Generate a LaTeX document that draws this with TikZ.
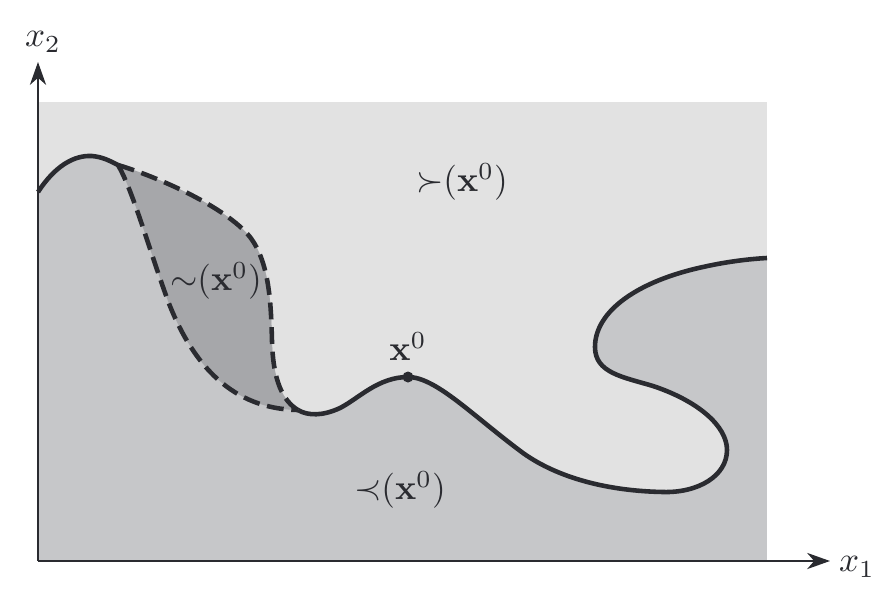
\documentclass[tikz,border=0pt]{standalone}
\usepackage{amsmath}
\usepackage{amssymb}
\usepackage{tikz}
\usetikzlibrary{positioning,arrows.meta}
\definecolor{pfline}{HTML}{2A2B30}
\definecolor{pflight}{HTML}{E2E2E2}
\definecolor{pfdark}{HTML}{C6C7C9}
\definecolor{pfmid}{HTML}{A6A7AA}

\begin{document}
\begin{tikzpicture}[
  font=\normalsize,
  bound/.style={draw=pfline, line width=1.3pt, line join=round},
  indiff/.style={bound, dash pattern=on 4.8pt off 2.2pt},
  axis/.style={draw=pfline, line width=0.6pt,
               -{Stealth[length=6.5pt, width=4.6pt, inset=2pt]}},
  lab/.style={inner sep=1pt, text=pfline},
]
  \useasboundingbox (-0.38,-0.41) rectangle (8.44,5.61);

  % ---- regions ----------------------------------------------------------------
  \coordinate (o) at (0,0);
  \coordinate (start) at (0,3.69);
  \coordinate (a) at (0.80,3.96);
  \coordinate (b) at (2.60,1.51);
  \coordinate (xzero) at (3.70,1.84);
  \coordinate (stop) at (7.29,3.03);
  \fill[pflight] (o) rectangle (7.29,4.59);
  \fill[pfdark] (o) -- (start)
    .. controls (0.17,3.95) and (0.36,4.06) .. (0.54,4.05)
    .. controls (0.65,4.04) and (0.72,4.00) .. (a)
    .. controls (1.20,3.84) and (1.88,3.54) .. (2.12,3.24)
    .. controls (2.32,2.98) and (2.33,2.55) .. (2.34,2.20)
    .. controls (2.35,1.80) and (2.45,1.60) .. (b)
    .. controls (2.70,1.45) and (2.85,1.45) .. (3.02,1.53)
    .. controls (3.20,1.62) and (3.40,1.84) .. (xzero)
    .. controls (3.98,1.84) and (4.35,1.45) .. (4.85,1.08)
    .. controls (5.20,0.83) and (5.70,0.70) .. (6.25,0.69)
    .. controls (6.60,0.68) and (6.89,0.85) .. (6.89,1.11)
    .. controls (6.89,1.35) and (6.60,1.60) .. (6.15,1.75)
    .. controls (5.85,1.84) and (5.57,1.88) .. (5.57,2.14)
    .. controls (5.57,2.50) and (6.00,2.80) .. (6.65,2.94)
    .. controls (6.87,2.99) and (7.10,3.02) .. (stop)
    -- (7.29,0) -- cycle;
  \fill[pfmid] (a)
    .. controls (1.20,3.84) and (1.88,3.54) .. (2.12,3.24)
    .. controls (2.32,2.98) and (2.33,2.55) .. (2.34,2.20)
    .. controls (2.35,1.80) and (2.45,1.60) .. (b)
    .. controls (1.95,1.52) and (1.55,1.95) .. (1.30,2.60)
    .. controls (1.10,3.15) and (0.95,3.70) .. (a) -- cycle;

  % ---- boundary curves --------------------------------------------------------
  \draw[bound] (start)
    .. controls (0.17,3.95) and (0.36,4.06) .. (0.54,4.05)
    .. controls (0.65,4.04) and (0.72,4.00) .. (a);
  \draw[bound] (b)
    .. controls (2.70,1.45) and (2.85,1.45) .. (3.02,1.53)
    .. controls (3.20,1.62) and (3.40,1.84) .. (xzero)
    .. controls (3.98,1.84) and (4.35,1.45) .. (4.85,1.08)
    .. controls (5.20,0.83) and (5.70,0.70) .. (6.25,0.69)
    .. controls (6.60,0.68) and (6.89,0.85) .. (6.89,1.11)
    .. controls (6.89,1.35) and (6.60,1.60) .. (6.15,1.75)
    .. controls (5.85,1.84) and (5.57,1.88) .. (5.57,2.14)
    .. controls (5.57,2.50) and (6.00,2.80) .. (6.65,2.94)
    .. controls (6.87,2.99) and (7.10,3.02) .. (stop);
  \draw[indiff] (a)
    .. controls (1.20,3.84) and (1.88,3.54) .. (2.12,3.24)
    .. controls (2.32,2.98) and (2.33,2.55) .. (2.34,2.20)
    .. controls (2.35,1.80) and (2.45,1.60) .. (b);
  \draw[indiff] (a)
    .. controls (0.95,3.70) and (1.10,3.15) .. (1.30,2.60)
    .. controls (1.55,1.95) and (1.95,1.52) .. (b);
  \fill[pfline] (xzero) circle (0.055);

  % ---- axes -------------------------------------------------------------------
  \coordinate (xend) at (7.92,0);
  \coordinate (yend) at (0,4.99);
  \draw[axis] (o) -- (xend);
  \draw[axis] (o) -- (yend);
  \node[lab] (xone) at (8.19,-0.06) {$x_1$};
  \node[lab] (xtwo) at (0.05,5.19) {$x_2$};

  % ---- labels -----------------------------------------------------------------
  \node[lab] (better) at (4.24,3.79) {${\succ}(\mathbf{x}^0)$};
  \node[lab] (same) at (1.78,2.80) {${\sim}(\mathbf{x}^0)$};
  \node[lab, above=0.12cm of xzero] (point) {$\mathbf{x}^0$};
  \node[lab] (worse) at (3.62,0.71) {${\prec}(\mathbf{x}^0)$};
\end{tikzpicture}
\end{document}
